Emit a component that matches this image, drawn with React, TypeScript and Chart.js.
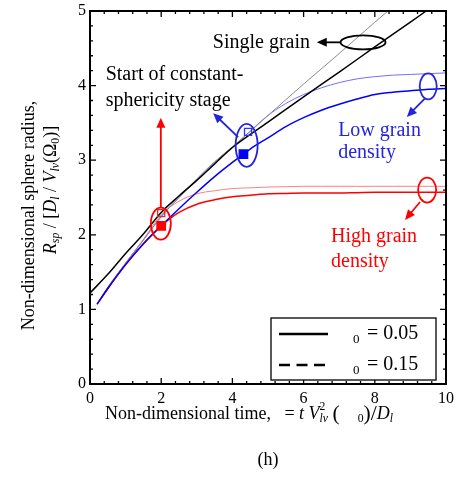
import { useEffect, useRef } from 'react';
import { Chart, registerables } from 'chart.js';
Chart.register(...registerables);

const FONT = '"Liberation Serif", "Times New Roman", serif';

// ---- data ----
const singleTime05 = [0, 0.5, 1, 1.5, 2, 2.5, 3, 3.5, 4, 5, 6, 7, 8, 9, 9.44];
const singleRadius05 = [1.22, 1.47, 1.75, 2.01, 2.3, 2.52, 2.73, 2.95, 3.17, 3.51, 3.85, 4.18, 4.52, 4.85, 5.0];
const singleTime15 = [0.2, 0.5, 1, 1.5, 2, 2.5, 3, 3.5, 4, 4.44, 5, 6, 7, 8, 8.37];
const singleRadius15 = [1.07, 1.3, 1.62, 1.93, 2.25, 2.5, 2.75, 2.98, 3.18, 3.36, 3.6, 4.02, 4.43, 4.85, 5.0];

const densityTime = [0.2, 0.5, 1, 1.5, 2, 2.5, 3, 3.5, 4, 4.5, 5, 5.5, 6, 6.5, 7, 7.5, 8, 8.5, 9, 9.5, 10];
const lowRadius05 = [1.07, 1.28, 1.6, 1.88, 2.12, 2.35, 2.57, 2.78, 2.97, 3.15, 3.3, 3.45, 3.57, 3.67, 3.75, 3.82, 3.88, 3.91, 3.93, 3.95, 3.96];
const lowRadius15 = [1.07, 1.29, 1.62, 1.93, 2.24, 2.5, 2.74, 2.97, 3.17, 3.39, 3.6, 3.76, 3.88, 3.97, 4.04, 4.09, 4.12, 4.14, 4.15, 4.16, 4.17];
const highRadius05 = [1.07, 1.28, 1.6, 1.88, 2.12, 2.3, 2.41, 2.47, 2.51, 2.53, 2.55, 2.555, 2.56, 2.56, 2.56, 2.565, 2.57, 2.57, 2.57, 2.57, 2.57];
const highRadius15 = [1.07, 1.29, 1.62, 1.94, 2.27, 2.45, 2.55, 2.59, 2.62, 2.63, 2.64, 2.645, 2.65, 2.65, 2.65, 2.65, 2.65, 2.65, 2.65, 2.65, 2.65];

// start of constant-sphericity stage markers [x, y]
const startHigh05 = [2.0, 2.12];
const startHigh15 = [2.0, 2.29];
const startLow05 = [4.31, 3.08];
const startLow15 = [4.44, 3.38];

const xTickValues = [0, 2, 4, 6, 8, 10];
const yTickValues = [0, 1, 2, 3, 4, 5];
const legendLabels = ['= 0.05', '= 0.15'];

const BLUE = '#2424dc';
const RED = '#ff0000';

// annotations in data units: [cx, cy, rxPx, ryPx]
const ellipses: [number, number, number, number, string][] = [
  [1.99, 2.15, 10, 16, RED],
  [4.40, 3.20, 11, 21.5, BLUE],
  [7.67, 4.58, 22.5, 7, '#000'],
  [9.50, 3.99, 8.5, 13, BLUE],
  [9.47, 2.60, 9, 12.5, RED],
];
// arrows: [x1, y1, xTip, yTip]
const arrows: [number, number, number, number, string][] = [
  [7.04, 4.58, 6.37, 4.58, '#000'],
  [1.99, 2.37, 1.99, 3.57, RED],
  [4.16, 3.31, 3.46, 3.63, BLUE],
  [9.41, 3.83, 8.90, 3.58, BLUE],
  [9.27, 2.44, 8.85, 2.20, RED],
];
// texts: [text, x, y, align, color]
const notes: [string, number, number, CanvasTextAlign, string][] = [
  ['Single grain', 6.18, 4.58, 'right', '#000'],
  ['Start of constant-', 0.44, 4.14, 'left', '#000'],
  ['sphericity stage', 0.44, 3.80, 'left', '#000'],
  ['Low grain', 6.97, 3.40, 'left', BLUE],
  ['density', 6.97, 3.10, 'left', BLUE],
  ['High grain', 6.77, 1.97, 'left', RED],
  ['density', 6.77, 1.64, 'left', RED],
];

type Seg = { t: string; it?: boolean; sub?: boolean; sup?: boolean; sc?: number; na?: boolean };

function segFont(s: Seg, size: number) {
  const sz = s.sub || s.sup ? size * 0.65 : size * (s.sc || 1);
  return `${s.it ? 'italic ' : ''}${sz}px ${FONT}`;
}

function drawRich(ctx: CanvasRenderingContext2D, segs: Seg[], x: number, y: number, size: number, align: 'left' | 'center' | 'right', color: string) {
  const widths = segs.map((s) => {
    ctx.font = segFont(s, size);
    return s.na ? 0 : ctx.measureText(s.t).width;
  });
  const total = widths.reduce((a, b) => a + b, 0);
  let cx = align === 'left' ? x : align === 'center' ? x - total / 2 : x - total;
  ctx.fillStyle = color;
  ctx.textAlign = 'left';
  ctx.textBaseline = 'middle';
  segs.forEach((s, i) => {
    ctx.font = segFont(s, size);
    let dy = 0;
    if (s.sub) dy = size * 0.3;
    if (s.sup) dy = -size * 0.38;
    ctx.fillText(s.t, cx, y + dy);
    cx += widths[i];
  });
}

const xTitle: Seg[] = [
  { t: 'Non-dimensional time,   = ' },
  { t: 't', it: true },
  { t: ' ' },
  { t: 'V', it: true },
  { t: '2', sup: true, na: true },
  { t: 'lv', sub: true, it: true },
  { t: ' ' },
  { t: '(', sc: 1.2 },
  { t: '    ' },
  { t: '0', sub: true },
  { t: ')', sc: 1.2 },
  { t: '/', sc: 1.2 },
  { t: 'D', it: true },
  { t: 'l', sub: true, it: true },
];
const yTitle1: Seg[] = [{ t: 'Non-dimensional sphere radius,' }];
const yTitle2: Seg[] = [
  { t: 'R', it: true },
  { t: 'sp', sub: true, it: true },
  { t: ' / [' },
  { t: 'D', it: true },
  { t: 'l', sub: true, it: true },
  { t: ' / ' },
  { t: 'V', it: true },
  { t: 'lv', sub: true, it: true },
  { t: '(Ω' },
  { t: '0', sub: true },
  { t: ')]' },
];

const annotPlugin = {
  id: 'annot',
  afterDraw(chart: any) {
    const { ctx, chartArea: a, scales } = chart;
    const xs = scales.x, ys = scales.y;
    const px = (v: number) => xs.getPixelForValue(v);
    const py = (v: number) => ys.getPixelForValue(v);
    ctx.save();
    // ticks
    ctx.strokeStyle = '#000';
    ctx.lineWidth = 1.3;
    for (let i = 0; i <= 25; i++) {
      const X = px(i * 0.4);
      const len = i % 5 === 0 ? 6 : 3;
      ctx.beginPath();
      ctx.moveTo(X, a.bottom); ctx.lineTo(X, a.bottom - len);
      ctx.moveTo(X, a.top); ctx.lineTo(X, a.top + len);
      ctx.stroke();
    }
    for (let i = 0; i <= 25; i++) {
      const Y = py(i * 0.2);
      const len = i % 5 === 0 ? 6 : 3;
      ctx.beginPath();
      ctx.moveTo(a.left, Y); ctx.lineTo(a.left + len, Y);
      ctx.moveTo(a.right, Y); ctx.lineTo(a.right - len, Y);
      ctx.stroke();
    }
    ctx.lineWidth = 2;
    ctx.strokeRect(a.left, a.top, a.right - a.left, a.bottom - a.top);

    // ellipses
    ctx.lineWidth = 1.8;
    ellipses.forEach(([cx, cy, rx, ry, c]) => {
      ctx.strokeStyle = c;
      ctx.beginPath();
      ctx.ellipse(px(cx), py(cy), rx, ry, 0, 0, Math.PI * 2);
      ctx.stroke();
    });
    // arrows
    arrows.forEach(([x1, y1, x2, y2, c]) => {
      const X1 = px(x1), Y1 = py(y1), X2 = px(x2), Y2 = py(y2);
      const ang = Math.atan2(Y2 - Y1, X2 - X1);
      const L = 10, W = 4.5;
      ctx.strokeStyle = c; ctx.fillStyle = c; ctx.lineWidth = 1.8;
      ctx.beginPath();
      ctx.moveTo(X1, Y1);
      ctx.lineTo(X2 - Math.cos(ang) * L * 0.8, Y2 - Math.sin(ang) * L * 0.8);
      ctx.stroke();
      ctx.beginPath();
      ctx.moveTo(X2, Y2);
      ctx.lineTo(X2 - Math.cos(ang) * L - Math.sin(ang) * W, Y2 - Math.sin(ang) * L + Math.cos(ang) * W);
      ctx.lineTo(X2 - Math.cos(ang) * L + Math.sin(ang) * W, Y2 - Math.sin(ang) * L - Math.cos(ang) * W);
      ctx.closePath();
      ctx.fill();
    });
    // notes
    ctx.font = `20px ${FONT}`;
    ctx.textBaseline = 'middle';
    notes.forEach(([t, x, y, al, c]) => {
      ctx.fillStyle = c;
      ctx.textAlign = al;
      ctx.fillText(t, px(x), py(y));
    });

    // legend box
    const L0 = a.right - 175, T0 = a.bottom - 66;
    ctx.fillStyle = '#fff';
    ctx.fillRect(L0, T0, 165, 62);
    ctx.strokeStyle = '#000';
    ctx.lineWidth = 1.3;
    ctx.strokeRect(L0, T0, 165, 62);
    ctx.lineWidth = 2.6;
    ctx.beginPath();
    ctx.moveTo(L0 + 8, T0 + 16); ctx.lineTo(L0 + 57, T0 + 16);
    ctx.stroke();
    ctx.setLineDash([11, 6.5]);
    ctx.beginPath();
    ctx.moveTo(L0 + 8, T0 + 47); ctx.lineTo(L0 + 55, T0 + 47);
    ctx.stroke();
    ctx.setLineDash([]);
    legendLabels.forEach((lab, i) => {
      const yy = T0 + 16 + i * 31;
      drawRich(ctx, [{ t: '0', sub: true }], L0 + 82, yy, 20, 'left', '#000');
      ctx.font = `20px ${FONT}`;
      ctx.textAlign = 'left';
      ctx.fillText(lab, L0 + 96, yy);
    });

    // axis titles
    drawRich(ctx, xTitle, 249, 414, 18, 'center', '#000');
    ctx.font = `18px ${FONT}`;
    ctx.fillStyle = '#000';
    ctx.textAlign = 'center';
    ctx.textBaseline = 'middle';
    ctx.fillText('(h)', 268, 460);

    ctx.save();
    ctx.translate(29, 215.5);
    ctx.rotate(-Math.PI / 2);
    drawRich(ctx, yTitle1, 0, 0, 18, 'center', '#000');
    ctx.restore();
    ctx.save();
    ctx.translate(51, 190);
    ctx.rotate(-Math.PI / 2);
    drawRich(ctx, yTitle2, 0, 0, 18, 'center', '#000');
    ctx.restore();

    ctx.restore();
  },
};

function pts(xs: number[], ys: number[]) {
  return xs.map((x, i) => ({ x, y: ys[i] }));
}

export default function App() {
  const ref = useRef<HTMLCanvasElement>(null);
  useEffect(() => {
    const canvas = ref.current!;
    const line = (data: any[], color: string, width: number) => ({
      data,
      showLine: true,
      borderColor: color,
      borderWidth: width,
      pointRadius: 0,
      fill: false,
      cubicInterpolationMode: 'monotone' as const,
    });
    const marker = (p: number[], color: string, filled: boolean, r: number) => ({
      data: [{ x: p[0], y: p[1] }],
      showLine: false,
      pointStyle: 'rect' as const,
      pointRadius: r,
      pointBorderWidth: 1.3,
      pointBorderColor: color,
      pointBackgroundColor: filled ? color : 'rgba(0,0,0,0)',
    });
    const chart = new Chart(canvas, {
      type: 'scatter',
      data: {
        datasets: [
          marker(startHigh05, RED, true, 6),
          marker(startLow05, '#0000ff', true, 6),
          marker(startHigh15, '#cc3333', false, 5),
          marker(startLow15, '#3333ff', false, 5),
          line(pts(singleTime05, singleRadius05), '#000000', 1.5),
          line(pts(densityTime, lowRadius05), '#0000ff', 1.5),
          line(pts(densityTime, highRadius05), '#ff0000', 1.5),
          line(pts(singleTime15, singleRadius15), '#8c8c8c', 1),
          line(pts(densityTime, lowRadius15), '#6f6fff', 1),
          line(pts(densityTime, highRadius15), '#ff8080', 1),
        ] as any,
      },
      options: {
        responsive: false,
        animation: false,
        devicePixelRatio: 1,
        layout: { padding: { top: 11, right: 11, left: 0, bottom: 0 } },
        plugins: { legend: { display: false }, tooltip: { enabled: false } },
        scales: {
          x: {
            type: 'linear',
            min: 0,
            max: 10,
            afterFit: (s: any) => { s.height = 93; s.paddingLeft = 0; s.paddingRight = 0; },
            afterBuildTicks: (s: any) => { s.ticks = xTickValues.map((v) => ({ value: v })); },
            ticks: { color: '#000', font: { family: FONT, size: 16 }, padding: 5, maxRotation: 0 },
            grid: { display: false, drawTicks: false },
            border: { display: false },
          },
          y: {
            type: 'linear',
            min: 0,
            max: 5,
            afterFit: (s: any) => { s.width = 90; s.paddingTop = 0; s.paddingBottom = 0; },
            afterBuildTicks: (s: any) => { s.ticks = yTickValues.map((v) => ({ value: v })); },
            ticks: { color: '#000', font: { family: FONT, size: 16 }, padding: 4 },
            grid: { display: false, drawTicks: false },
            border: { display: false },
          },
        },
      },
      plugins: [annotPlugin],
    });
    return () => chart.destroy();
  }, []);
  return (
    <div style={{ position: 'absolute', left: 0, top: 0, width: 457, height: 477, background: '#fff' }}>
      <canvas ref={ref} width={457} height={477} style={{ display: 'block', width: 457, height: 477 }} />
    </div>
  );
}
